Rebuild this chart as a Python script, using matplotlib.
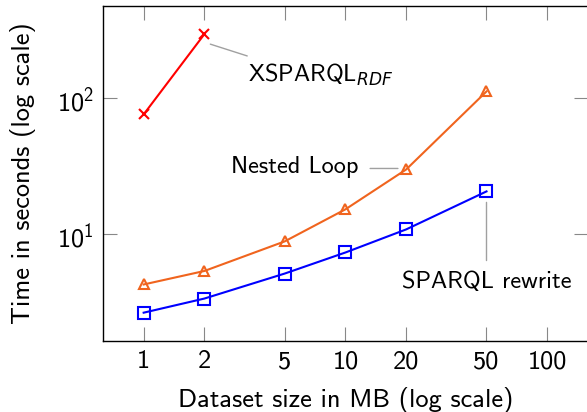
import matplotlib
matplotlib.use("Agg")
import matplotlib.pyplot as plt
from matplotlib.ticker import FixedLocator, FixedFormatter, NullLocator

plt.rcParams['font.family'] = ['cmss10', 'DejaVu Sans']
plt.rcParams['mathtext.fontset'] = 'custom'
plt.rcParams['mathtext.rm'] = 'cmss10'
plt.rcParams['mathtext.sf'] = 'cmss10'
plt.rcParams['mathtext.it'] = 'DejaVu Sans:italic'
plt.rcParams['axes.unicode_minus'] = False

# Data
sizes_mb = [1, 2, 5, 10, 20, 50]
xsparql_x = [1, 2]
xsparql_rdf = [76, 295]
nested_loop = [4.3, 5.4, 8.9, 15.3, 30, 112]
sparql_rewrite = [2.67, 3.39, 5.17, 7.38, 10.9, 20.7]
xtick_vals = [1, 2, 5, 10, 20, 50, 100]
xtick_labels = ['1', '2', '5', '10', '20', '50', '100']
ytick_vals = [10, 100]
ytick_labels = ['$10^1$', '$10^2$']

fig = plt.figure(figsize=(5.87, 4.12), dpi=100)
ax = fig.add_axes([103.3/587, 71.3/412, (587.6-103.3)/587, (406-71.3)/412])
ax.set_xscale('log')
ax.set_yscale('log')
ax.set_xlim(10**-0.2, 10**2.2)
ax.set_ylim(10**0.221, 10**2.676)

ax.plot(xsparql_x, xsparql_rdf, color='#ff0000', lw=1.5, marker='x', ms=7, mew=1.5)
ax.plot(sizes_mb, nested_loop, color='#f0641e', lw=1.5, marker='^', ms=7.5,
        mfc='none', mew=1.5)
ax.plot(sizes_mb, sparql_rewrite, color='#0000ff', lw=1.5, marker='s', ms=9,
        mfc='none', mew=1.5)

ax.xaxis.set_major_locator(FixedLocator(xtick_vals))
ax.xaxis.set_major_formatter(FixedFormatter(xtick_labels))
ax.xaxis.set_minor_locator(NullLocator())
ax.yaxis.set_major_locator(FixedLocator(ytick_vals))
ax.yaxis.set_major_formatter(FixedFormatter(ytick_labels))
ax.yaxis.set_minor_locator(NullLocator())
ax.tick_params(axis='both', which='major', direction='in', length=10, width=0.8,
               color='#888888', top=True, right=True, labelsize=19, pad=7)
for s in ax.spines.values():
    s.set_linewidth(1.0)

ax.set_xlabel('Dataset size in MB (log scale)', fontsize=19, labelpad=10)
ax.set_ylabel('Time in seconds (log scale)', fontsize=19, labelpad=15)

pin = dict(arrowstyle='-', color='#a0a0a0', lw=1.0, shrinkA=0, shrinkB=0)
ax.annotate('', xy=(2.14, 249), xytext=(3.26, 204), arrowprops=pin)
ax.text(3.29, 147.6, 'XSPARQL$_{RDF}$', fontsize=17.5, ha='left', va='center')
ax.annotate('', xy=(18.2, 30.5), xytext=(13.25, 30.5), arrowprops=pin)
ax.text(11.55, 31.1, 'Nested Loop', fontsize=17.5, ha='right', va='center')
ax.annotate('', xy=(50, 17.2), xytext=(50, 6.44), arrowprops=pin)
ax.text(50, 4.51, 'SPARQL rewrite', fontsize=17.5, ha='center', va='center')

fig.savefig('out.png', dpi=100)
